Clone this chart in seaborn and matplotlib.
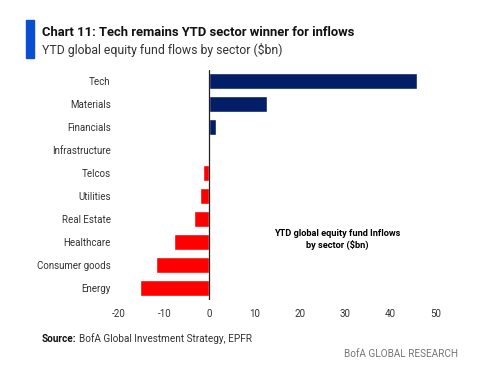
import matplotlib
matplotlib.use('Agg')
import matplotlib.pyplot as plt
import matplotlib.patches as mpatches
import seaborn as sns
import pandas as pd

# ── Data ($bn)
sectors = ["Tech", "Materials", "Financials", "Infrastructure", "Telcos",
           "Utilities", "Real Estate", "Healthcare", "Consumer goods", "Energy"]
flows = [46.0, 12.8, 1.4, 0.2, -1.4, -2.0, -3.3, -7.8, -11.8, -15.4]
x_ticks = [-20, -10, 0, 10, 20, 30, 40, 50]

NAVY = "#031e66"
RED = "#ff0000"

sns.set_theme(style="white")
plt.rcParams['font.family'] = ['Roboto', 'DejaVu Sans']
plt.rcParams['axes.unicode_minus'] = False

df = pd.DataFrame({"sector": sectors, "flow": flows})
df["sign"] = ["in" if v >= 0 else "out" for v in flows]

fig = plt.figure(figsize=(4.99, 3.70), dpi=100)
ax = fig.add_axes([0.2385, 0.19, 0.634, 0.622])

sns.barplot(data=df, x="flow", y="sector", hue="sign",
            palette={"in": NAVY, "out": RED}, dodge=False, legend=False,
            width=0.68, saturation=1, ax=ax)

ax.set_xlim(-20, 50)
ax.set_xticks(x_ticks)
ax.set_xlabel("")
ax.set_ylabel("")
for s in ["top", "right", "bottom", "left"]:
    ax.spines[s].set_visible(False)
ax.axvline(0, color="#222222", lw=0.9, zorder=3)
ax.tick_params(axis="both", length=0, labelsize=7, colors="#333333", pad=6)
ax.tick_params(axis="x", pad=7)

ax.text(0.69, 0.26, "YTD global equity fund Inflows\nby sector ($bn)",
        transform=ax.transAxes, ha="center", va="center",
        fontsize=6.7, fontweight="bold", color="#000000", linespacing=1.25)

# header bar + titles
fig.patches.append(mpatches.Rectangle((26 / 499, 1 - 58 / 370), 8 / 499, 38 / 370,
                                      transform=fig.transFigure, color="#0a4fd1"))
fig.text(42 / 499, 1 - 32 / 370, "Chart 11: Tech remains YTD sector winner for inflows",
         fontsize=9.4, fontweight="bold", color="#111111", va="center")
fig.text(42 / 499, 1 - 50 / 370, "YTD global equity fund flows by sector ($bn)",
         fontsize=8.8, color="#333333", va="center")

src = fig.text(42 / 499, 1 - 339 / 370, "Source:", fontsize=7.2, fontweight="bold",
               color="#111111", va="center")
fig.canvas.draw()
bb = src.get_window_extent()
fig.text(bb.x1 / 499 + 2 / 499, 1 - 339 / 370, "BofA Global Investment Strategy, EPFR",
         fontsize=7.2, color="#333333", va="center")
fig.text(458 / 499, 1 - 354 / 370, "BofA GLOBAL RESEARCH", fontsize=7.2,
         color="#777777", va="center", ha="right")

fig.savefig("out.png", dpi=100)
